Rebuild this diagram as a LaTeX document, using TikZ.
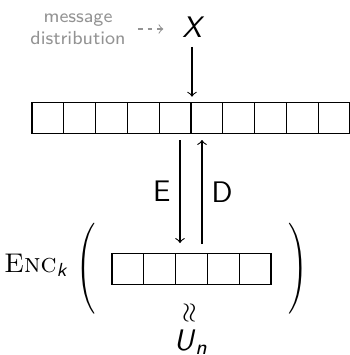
\documentclass[tikz,border=0pt]{standalone}
\usepackage{amsmath}

\begin{document}
\begin{tikzpicture}[x=0.37pt, y=-0.37pt,
    cell/.style={draw, minimum size=11.76pt, inner sep=0pt, outer sep=0pt},
    lbl/.style={font=\sffamily\fontsize{11}{13}\selectfont}]
        \useasboundingbox (0,0) rectangle (349,355);
        % message source
        \node[font=\sffamily\scriptsize, text=gray!85, align=center] (msg) at (78,29) {message\\distribution};
        \node[lbl, font=\sffamily\itshape\fontsize{11}{13}\selectfont] (X) at (192,27) {X};
        \draw[->, gray!85, dash pattern=on 1.8pt off 1.8pt, shorten <=1pt, shorten >=3.5pt] (msg.east) -- (msg.east -| X.west);

        % top array
        \foreach \i in {0,...,9} {
            \node[cell] (t\i) at ({47.9+31.8*\i},118) {};
        }
        \draw[->, shorten >=2pt] (X) -- (X |- t0.north);

        % bottom array
        \foreach \i in {0,...,4} {
            \node[cell] (b\i) at ({127.9+31.8*\i},269) {};
        }

        % encode / decode
        \coordinate (eTop) at (180,140);
        \coordinate (eBot) at (180,243);
        \coordinate (dBot) at (202,244);
        \coordinate (dTop) at (202,140);
        \draw[->] (eTop) -- (eBot) node[midway, left, lbl] {E};
        \draw[->] (dBot) -- (dTop) node[midway, right, lbl] {D};

        % Enc_k( ... )
        \node[anchor=base, inner sep=0pt] (enc) at (36,272) {\textsc{Enc}$_{\textsf{\itshape k}}$};
        \node (lp) at (86,269) {\scalebox{0.9}[1.12]{$\Bigg($}};
        \node (rp) at (298,269) {\scalebox{0.9}[1.12]{$\Bigg)$}};
        \node (approx) at (190,313) {\rotatebox{90}{$\approx$}};
        \node[anchor=base, inner sep=0pt, font=\fontsize{11}{13}\selectfont] (U) at (191,350) {\textsf{\itshape U}$_{\textsf{\itshape n}}$};
\end{tikzpicture}
\end{document}
